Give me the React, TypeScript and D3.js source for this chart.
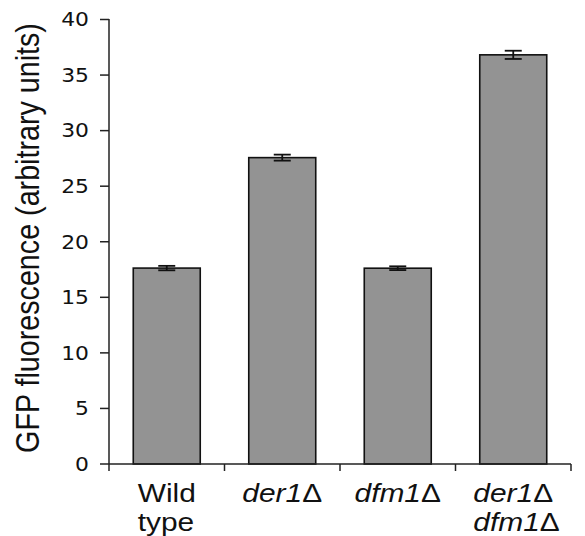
import React, { useEffect, useRef } from "react";
import * as d3 from "d3";

const categories = ["Wild type", "der1Δ", "dfm1Δ", "der1Δ dfm1Δ"];
const labelLines = [["Wild", "type"], ["der1Δ"], ["dfm1Δ"], ["der1Δ", "dfm1Δ"]];
const labelItalic = [false, true, true, true];
const values = [17.63, 27.57, 17.62, 36.82];
const errors = [0.2, 0.27, 0.17, 0.37];
const yTicks = [0, 5, 10, 15, 20, 25, 30, 35, 40];
const yTitle = "GFP fluorescence (arbitrary units)";

const W = 585;
const H = 536;

export default function App() {
  const ref = useRef<SVGSVGElement | null>(null);

  useEffect(() => {
    const svg = d3.select(ref.current);
    svg.selectAll("*").remove();

    const x0 = 109, x1 = 571, yBase = 464, yTop = 19.5;
    const x = d3.scaleBand<string>().domain(categories).range([x0, x1]).paddingInner(0.42).paddingOuter(0.21);
    const y = d3.scaleLinear().domain([0, 40]).range([yBase, yTop]);
    const sx = 1.15;

    // bars
    svg.append("g").selectAll("rect").data(categories).join("rect")
      .attr("x", (d) => x(d)!)
      .attr("y", (_, i) => y(values[i]))
      .attr("width", x.bandwidth())
      .attr("height", (_, i) => y(0) - y(values[i]))
      .attr("fill", "#939393")
      .attr("stroke", "#111")
      .attr("stroke-width", 1.6);

    // error bars
    const eg = svg.append("g").attr("stroke", "#111").attr("stroke-width", 1.8);
    categories.forEach((c, i) => {
      const cx = x(c)! + x.bandwidth() / 2;
      const hi = y(values[i] + errors[i]);
      const lo = y(values[i] - errors[i]);
      eg.append("line").attr("x1", cx).attr("x2", cx).attr("y1", hi).attr("y2", lo);
      eg.append("line").attr("x1", cx - 8.5).attr("x2", cx + 8.5).attr("y1", hi).attr("y2", hi);
      eg.append("line").attr("x1", cx - 8.5).attr("x2", cx + 8.5).attr("y1", lo).attr("y2", lo);
    });

    // axes
    const ag = svg.append("g").attr("stroke", "#222").attr("stroke-width", 1.5).attr("fill", "none");
    ag.append("line").attr("x1", x0).attr("x2", x0).attr("y1", yTop - 0.5).attr("y2", yBase + 7);
    ag.append("line").attr("x1", x0).attr("x2", x1).attr("y1", yBase).attr("y2", yBase);
    yTicks.forEach((t) => {
      ag.append("line").attr("x1", x0 - 9).attr("x2", x0).attr("y1", y(t)).attr("y2", y(t));
    });
    categories.forEach((c) => {
      const bx = x(c)! - (x.step() - x.bandwidth()) / 2 + x.step();
      ag.append("line").attr("x1", bx).attr("x2", bx).attr("y1", yBase).attr("y2", yBase + 7);
    });

    // y tick labels
    const tg = svg.append("g");
    yTicks.forEach((t) => {
      tg.append("text")
        .attr("transform", `translate(89, ${y(t)}) scale(${sx},1)`)
        .attr("text-anchor", "end")
        .attr("dy", "0.36em")
        .attr("font-family", "DejaVu Sans, Verdana, sans-serif")
        .attr("font-size", 19)
        .attr("fill", "#111")
        .text(String(t));
    });

    // y title
    svg.append("text")
      .attr("transform", `translate(39, 238) scale(${sx},1) rotate(-90)`)
      .attr("text-anchor", "middle")
      .attr("font-family", "Liberation Sans, Arial, sans-serif")
      .attr("font-size", 28.7)
      .attr("fill", "#111")
      .text(yTitle);

    // x labels
    categories.forEach((c, i) => {
      const cx = x(c)! + x.bandwidth() / 2;
      const g = svg.append("g").attr("transform", `translate(${cx}, 0) scale(${sx},1)`);
      const texts = labelLines[i].map((line, li) => {
        const t = g.append("text")
          .attr("y", 502 + li * 29)
          .attr("font-family", "Liberation Sans, Arial, sans-serif")
          .attr("font-size", 26)
          .attr("fill", "#111");
        if (labelItalic[i]) {
          const base = line.replace("Δ", "");
          t.append("tspan").attr("font-style", "italic").text(base);
          if (line.includes("Δ")) t.append("tspan").text("Δ");
        } else {
          t.text(line);
        }
        return t;
      });
      const firstLen = (texts[0].node() as SVGTextElement).getComputedTextLength();
      texts.forEach((t) => t.attr("x", -firstLen / 2));
    });
  }, []);

  return (
    <svg
      ref={ref}
      width={W}
      height={H}
      style={{ position: "absolute", left: 0, top: 0, background: "#fff" }}
    />
  );
}
